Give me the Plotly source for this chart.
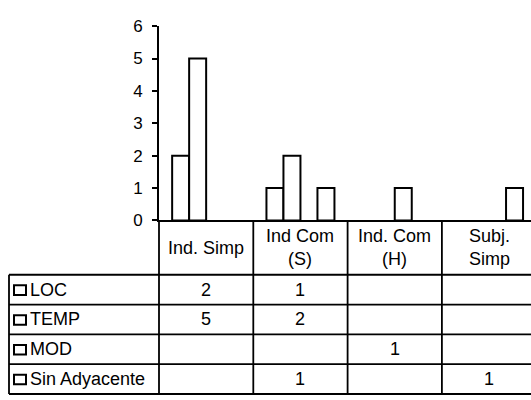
import plotly.graph_objects as go

# ---- data ----
categories = ["Ind. Simp", "Ind Com (S)", "Ind. Com (H)", "Subj. Simp"]
header_labels = ["Ind. Simp", "Ind Com<br>(S)", "Ind. Com<br>(H)", "Subj.<br>Simp"]
series_names = ["LOC", "TEMP", "MOD", "Sin Adyacente"]
loc_vals = [2, 1, None, None]
temp_vals = [5, 2, None, None]
mod_vals = [None, None, 1, None]
sin_ady_vals = [None, 1, None, 1]
y_ticks = [0, 1, 2, 3, 4, 5, 6]

series_values = [loc_vals, temp_vals, mod_vals, sin_ady_vals]

W, H = 531, 400
FONT = "Liberation Sans, Arial, sans-serif"


def px(x):
    return x / W


def py(y):
    return 1 - y / H


# plot geometry (pixels)
AX_LEFT = 159
CAT_W = 94.3
Y0_PX, Y6_PX = 222, 18
x_range_end = -0.5 + (W - AX_LEFT) / CAT_W

fig = go.Figure()
for name, vals in zip(series_names, series_values):
    fig.add_trace(go.Bar(
        x=categories, y=vals, name=name,
        marker=dict(color="white", line=dict(color="black", width=2)),
        showlegend=False, hoverinfo="skip",
    ))

shapes = []
annotations = []
LW = 1.8
line = dict(color="black", width=LW)

# table geometry
header_top = Y0_PX
header_bot = 279
row_h = 31.3
row_tops = [header_bot + i * row_h for i in range(len(series_names) + 1)]
table_left = 9
bottom = row_tops[-1]

# vertical lines for columns
for i in range(len(categories)):
    xp = AX_LEFT + i * CAT_W
    shapes.append(dict(type="line", xref="paper", yref="paper",
                       x0=px(xp), x1=px(xp), y0=py(header_top), y1=py(bottom), line=line))
# left border of label column
shapes.append(dict(type="line", xref="paper", yref="paper",
                   x0=px(table_left), x1=px(table_left), y0=py(header_bot), y1=py(bottom), line=line))
# horizontal row lines
for yt in row_tops:
    shapes.append(dict(type="line", xref="paper", yref="paper",
                       x0=px(table_left), x1=1, y0=py(yt), y1=py(yt), line=line))

# header labels
for cat, lab in zip(categories, header_labels):
    annotations.append(dict(x=cat, xref="x", y=py((header_top + header_bot) / 2), yref="paper",
                            text=lab, showarrow=False, xanchor="center", yanchor="middle",
                            font=dict(family=FONT, size=18, color="black")))

# rows
for r, (name, vals) in enumerate(zip(series_names, series_values)):
    yc = row_tops[r] + row_h / 2
    shapes.append(dict(type="rect", xref="paper", yref="paper",
                       x0=px(14), x1=px(26), y0=py(yc - 4.5), y1=py(yc + 5.5),
                       line=dict(color="black", width=2), fillcolor="white"))
    annotations.append(dict(x=px(28), xref="paper", y=py(yc), yref="paper",
                            text=name, showarrow=False, xanchor="left", yanchor="middle",
                            font=dict(family=FONT, size=18, color="black")))
    for cat, v in zip(categories, vals):
        if v is not None:
            annotations.append(dict(x=cat, xref="x", y=py(yc), yref="paper",
                                    text=str(v), showarrow=False, xanchor="center", yanchor="middle",
                                    font=dict(family=FONT, size=18, color="black")))

fig.update_layout(
    width=W, height=H,
    margin=dict(l=0, r=0, t=0, b=0),
    paper_bgcolor="white", plot_bgcolor="white",
    barmode="group", bargap=0.279, bargroupgap=0,
    xaxis=dict(domain=[px(AX_LEFT), 1], range=[-0.5, x_range_end], type="category",
               categoryorder="array", categoryarray=categories,
               showticklabels=False, ticks="", showline=True, linecolor="black", linewidth=2,
               showgrid=False, zeroline=False, fixedrange=True),
    yaxis=dict(domain=[py(Y0_PX), py(Y6_PX)], range=[0, 6], tickvals=y_ticks,
               ticks="outside", ticklen=5, tickwidth=1.5, tickcolor="black",
               showline=True, linecolor="black", linewidth=2, showgrid=False, zeroline=False,
               tickfont=dict(family=FONT, size=17, color="black"), ticklabelstandoff=6,
               fixedrange=True),
    shapes=shapes, annotations=annotations,
    font=dict(family=FONT, color="black"),
)

fig.write_html("out.html", config={"displayModeBar": False},
               post_script="document.body.style.margin='0px';document.body.style.overflow='hidden';")
